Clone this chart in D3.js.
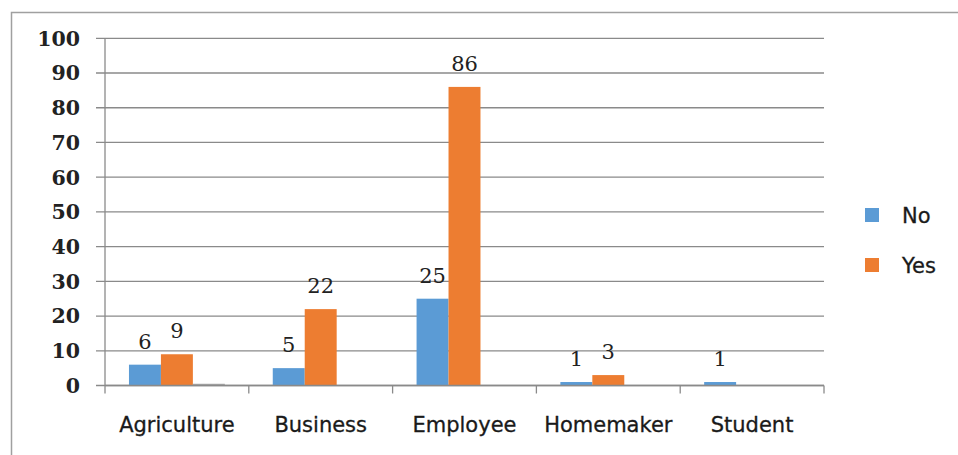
<!DOCTYPE html>
<html>
<head>
<meta charset="utf-8">
<script src="https://cdn.jsdelivr.net/npm/d3@7/dist/d3.min.js"></script>
<style>
  html, body { margin: 0; padding: 0; background: #fff; }
  svg { display: block; }
</style>
</head>
<body>
<svg id="chart" width="958" height="455"></svg>
<script>
// Occupation categories and survey responses
const categories = ["Agriculture", "Business", "Employee", "Homemaker", "Student"];
const seriesNames = ["No", "Yes", "Blank"];
const noValues = [6, 5, 25, 1, 1];
const yesValues = [9, 22, 86, 3, 0];
const blankValues = [0.5, 0, 0, 0, 0];
const yTicks = [0, 10, 20, 30, 40, 50, 60, 70, 80, 90, 100];
const legendNames = ["No", "Yes"];

const colors = { No: "#5b9bd5", Yes: "#ed7d31", Blank: "#a5a5a5" };
const valuesBySeries = { No: noValues, Yes: yesValues, Blank: blankValues };
const labelled = { No: true, Yes: true, Blank: false };

const svg = d3.select("#chart");

// outer chart frame
svg.append("rect")
  .attr("x", 11.5).attr("y", 12.5)
  .attr("width", 960).attr("height", 460)
  .attr("fill", "none").attr("stroke", "#a0a0a0").attr("stroke-width", 1.5);

const plot = { left: 105, right: 824, top: 38.3, bottom: 385.5 };

const x = d3.scaleBand().domain(categories).range([plot.left, plot.right]).paddingInner(0).paddingOuter(0);
const y = d3.scaleLinear().domain([0, 100]).range([plot.bottom, plot.top]);
const xs = d3.scaleBand().domain(seriesNames)
  .range([x.bandwidth() / 6, x.bandwidth() * 5 / 6]).padding(0);

// horizontal gridlines with short tick stubs left of the axis
svg.append("g").selectAll("line").data(yTicks).join("line")
  .attr("x1", plot.left - 9).attr("x2", plot.right)
  .attr("y1", d => y(d)).attr("y2", d => y(d))
  .attr("stroke", "#8a8a8a").attr("stroke-width", 1.3);

// y tick labels
svg.append("g").selectAll("text").data(yTicks).join("text")
  .attr("x", 80).attr("y", d => y(d))
  .attr("dy", "0.36em")
  .attr("text-anchor", "end")
  .attr("font-family", "DejaVu Serif")
  .attr("font-weight", "bold")
  .attr("font-size", 20.5)
  .attr("fill", "#222")
  .text(d => d);

// bars
const rows = [];
categories.forEach((c, i) => {
  seriesNames.forEach(s => rows.push({ c, s, v: valuesBySeries[s][i] }));
});

svg.append("g").selectAll("rect").data(rows.filter(d => d.v > 0)).join("rect")
  .attr("x", d => x(d.c) + xs(d.s))
  .attr("width", xs.bandwidth())
  .attr("y", d => y(d.v))
  .attr("height", d => y(0) - y(d.v))
  .attr("fill", d => colors[d.s]);

// value labels above bars
svg.append("g").selectAll("text").data(rows.filter(d => labelled[d.s] && d.v > 0)).join("text")
  .attr("x", d => x(d.c) + xs(d.s) + xs.bandwidth() / 2)
  .attr("y", d => y(d.v) - 16)
  .attr("text-anchor", "middle")
  .attr("font-family", "DejaVu Serif")
  .attr("font-size", 21)
  .attr("fill", "#222")
  .text(d => d.v);

// y axis line
svg.append("line")
  .attr("x1", plot.left).attr("x2", plot.left)
  .attr("y1", plot.top).attr("y2", plot.bottom + 8)
  .attr("stroke", "#8a8a8a").attr("stroke-width", 1.3);

// x axis baseline and category boundary ticks
svg.append("line")
  .attr("x1", plot.left).attr("x2", plot.right)
  .attr("y1", plot.bottom).attr("y2", plot.bottom)
  .attr("stroke", "#8a8a8a").attr("stroke-width", 1.3);

const boundaries = categories.map(c => x(c) + x.bandwidth());
svg.append("g").selectAll("line").data(boundaries).join("line")
  .attr("x1", d => d).attr("x2", d => d)
  .attr("y1", plot.bottom).attr("y2", plot.bottom + 8)
  .attr("stroke", "#8a8a8a").attr("stroke-width", 1.3);

// category labels
svg.append("g").selectAll("text").data(categories).join("text")
  .attr("x", d => x(d) + x.bandwidth() / 2)
  .attr("y", 432)
  .attr("text-anchor", "middle")
  .attr("font-family", "DejaVu Sans")
  .attr("font-size", 21)
  .attr("fill", "#1a1a1a")
  .attr("stroke", "#1a1a1a").attr("stroke-width", 0.3)
  .text(d => d);

// legend
const legend = svg.append("g").selectAll("g").data(legendNames).join("g")
  .attr("transform", (d, i) => `translate(865, ${208 + i * 50})`);
legend.append("rect")
  .attr("width", 14).attr("height", 14)
  .attr("fill", d => colors[d]);
legend.append("text")
  .attr("x", 37).attr("y", 15)
  .attr("font-family", "DejaVu Sans")
  .attr("font-size", 21)
  .attr("fill", "#1a1a1a")
  .attr("stroke", "#1a1a1a").attr("stroke-width", 0.3)
  .text(d => d);
</script>
</body>
</html>
